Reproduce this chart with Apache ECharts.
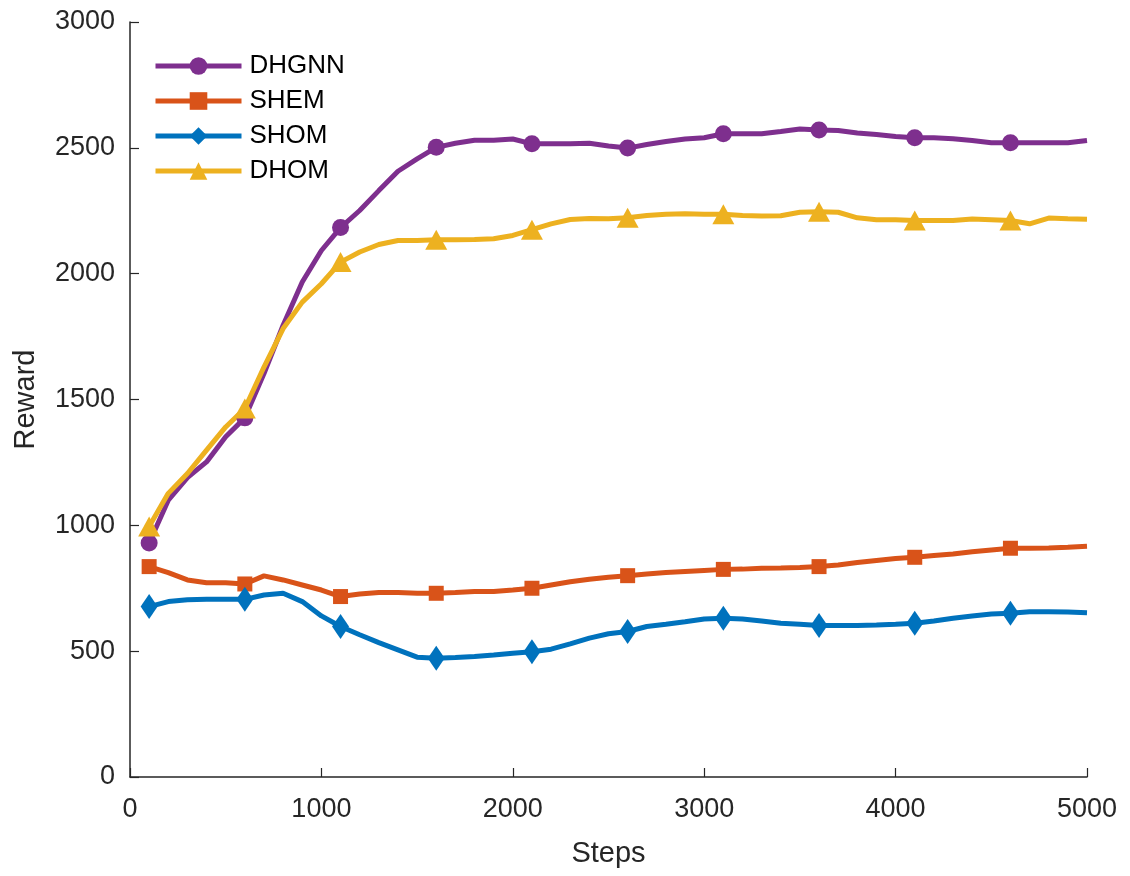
<!DOCTYPE html>
<html>
<head>
<meta charset="utf-8">
<script src="https://cdn.jsdelivr.net/npm/echarts@6/dist/echarts.min.js"></script>
<style>
  html, body { margin: 0; padding: 0; background: #fff; }
  #chart { width: 1130px; height: 876px; }
</style>
</head>
<body>
<div id="chart"></div>
<script>
// training steps (x axis)
var steps = [100, 200, 300, 400, 500, 600, 700, 800, 900, 1000,
  1100, 1200, 1300, 1400, 1500, 1600, 1700, 1800, 1900, 2000,
  2100, 2200, 2300, 2400, 2500, 2600, 2700, 2800, 2900, 3000,
  3100, 3200, 3300, 3400, 3500, 3600, 3700, 3800, 3900, 4000,
  4100, 4200, 4300, 4400, 4500, 4600, 4700, 4800, 4900, 5000];

var dhgnn = [930, 1100, 1190, 1252, 1352, 1427, 1603, 1795, 1967, 2092,
  2183, 2251, 2330, 2407, 2456, 2502, 2518, 2530, 2530, 2535,
  2516, 2516, 2516, 2518, 2507, 2499, 2513, 2525, 2535, 2540,
  2556, 2556, 2556, 2565, 2575, 2571, 2569, 2559, 2553, 2545,
  2540, 2540, 2536, 2529, 2520, 2520, 2520, 2520, 2520, 2529];

var shem = [836, 812, 783, 772, 772, 767, 799, 783, 763, 743,
  717, 727, 733, 733, 730, 730, 733, 737, 737, 743,
  750, 763, 776, 786, 794, 800, 807, 813, 817, 821,
  825, 826, 829, 830, 832, 836, 842, 852, 860, 868,
  873, 880, 886, 895, 902, 909, 909, 910, 913, 917];

var shom = [677, 697, 704, 706, 706, 706, 723, 730, 697, 640,
  598, 565, 534, 505, 476, 472, 475, 479, 485, 492,
  498, 508, 529, 552, 569, 578, 598, 607, 617, 628,
  631, 628, 620, 611, 607, 602, 602, 602, 604, 607,
  611, 620, 631, 640, 648, 651, 657, 657, 656, 653];

var dhom = [995, 1127, 1206, 1299, 1391, 1464, 1629, 1782, 1887, 1960,
  2046, 2086, 2116, 2132, 2132, 2135, 2135, 2136, 2139, 2152,
  2175, 2198, 2215, 2219, 2218, 2222, 2231, 2236, 2238, 2236,
  2236, 2231, 2229, 2230, 2244, 2246, 2244, 2222, 2214, 2214,
  2211, 2211, 2211, 2217, 2214, 2211, 2198, 2221, 2218, 2216];

var fontName = 'Liberation Sans, Arial, Helvetica, sans-serif';
var axisColor = '#262626';

var chart = echarts.init(document.getElementById('chart'));

// 把步数和数值拼成 [x, y]
function pairs(vals) {
  return steps.map(function (s, i) { return [s, vals[i]]; });
}

// 每隔 5 个点画一个标记（100, 600, 1100 ...）
function markerSize(size) {
  return function (val, params) {
    return params.dataIndex % 5 === 0 ? size : 0;
  };
}

function makeSeries(name, vals, color, symbol, size) {
  return {
    name: name,
    type: 'line',
    data: pairs(vals),
    symbol: symbol,
    symbolSize: markerSize(size),
    showAllSymbol: true,
    color: color,
    lineStyle: { color: color, width: 5 },
    itemStyle: { color: color, borderWidth: 0 },
    emphasis: { disabled: true },
    animation: false
  };
}

// 刻度不要千分位逗号
function plainNum(v) {
  return String(v);
}

var option = {
  backgroundColor: '#ffffff',
  textStyle: { fontFamily: fontName },
  grid: { left: 130, right: 43, top: 22, bottom: 99, containLabel: false },
  legend: {
    orient: 'vertical',
    left: 148,
    top: 48,
    itemWidth: 86,
    itemHeight: 22,
    itemGap: 9,
    lineStyle: { width: 5 },
    textStyle: { fontSize: 26, color: '#000', fontFamily: fontName, padding: [0, 0, 0, 3] },
    data: ['DHGNN', 'SHEM', 'SHOM', 'DHOM']
  },
  xAxis: {
    type: 'value',
    min: 0,
    max: 5000,
    interval: 1000,
    name: 'Steps',
    nameLocation: 'middle',
    nameGap: 62,
    nameTextStyle: { fontSize: 29, color: axisColor },
    axisLine: { show: true, lineStyle: { color: axisColor, width: 1.5 } },
    axisTick: { show: true, inside: true, length: 9, lineStyle: { color: axisColor, width: 1.2 } },
    axisLabel: { fontSize: 27, color: axisColor, margin: 19, formatter: plainNum },
    splitLine: { show: false }
  },
  yAxis: {
    type: 'value',
    min: 0,
    max: 3000,
    interval: 500,
    name: 'Reward',
    nameLocation: 'middle',
    nameGap: 90,
    nameTextStyle: { fontSize: 29, color: axisColor },
    axisLine: { show: true, lineStyle: { color: axisColor, width: 1.5 } },
    axisTick: { show: true, inside: true, length: 9, lineStyle: { color: axisColor, width: 1.2 } },
    axisLabel: { fontSize: 27, color: axisColor, margin: 15, formatter: plainNum },
    splitLine: { show: false }
  },
  series: [
    makeSeries('DHGNN', dhgnn, '#7E2F8E', 'circle', 17),
    makeSeries('SHEM', shem, '#D95319', 'rect', 15),
    makeSeries('SHOM', shom, '#0072BD', 'diamond', [17, 25]),
    makeSeries('DHOM', dhom, '#EDB120', 'triangle', [22, 20])
  ]
};

chart.setOption(option);
</script>
</body>
</html>
